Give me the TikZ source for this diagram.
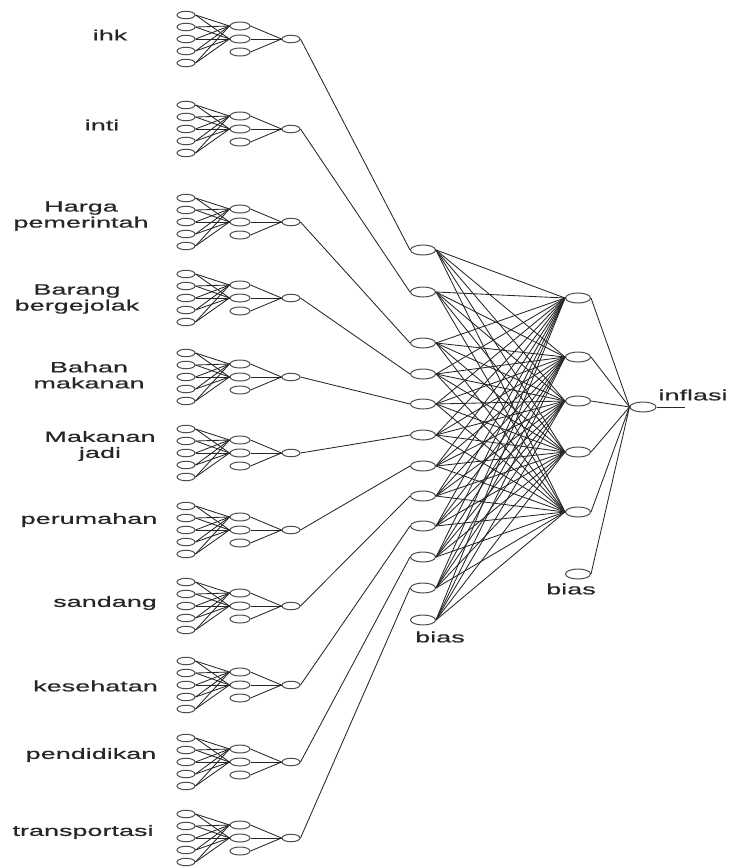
\documentclass[tikz,border=0pt]{standalone}
\usepackage{fontspec}
\newfontfamily\lbl[FakeStretch=1.8,FakeBold=0.6]{Liberation Sans}
\usetikzlibrary{shapes.geometric}
\definecolor{wcol}{gray}{0.15}
\definecolor{ncol}{gray}{0.3}
\definecolor{tcol}{gray}{0.15}
\begin{document}
\begin{tikzpicture}[x=1pt,y=-1pt,
  neu/.style={draw=ncol, ellipse, minimum width=18pt, minimum height=7.5pt, inner sep=0pt, line width=1pt},
  hid/.style={neu, minimum width=20pt, minimum height=8pt},
  big/.style={neu, minimum width=25pt, minimum height=10pt},
  wire/.style={draw=wcol, line width=0.85pt},
  lab/.style={font=\lbl\fontsize{15}{16}\selectfont, text=tcol, align=center, inner sep=0pt}]
\useasboundingbox (0,0) rectangle (732,867);
% sub-networks
\foreach \k/\yo in {1/39,2/129,3/222,4/298,5/377,6/453,7/530,8/606,9/685,10/762,11/838}{
  \node[neu] (o\k) at (291,\yo) {};
  \foreach \i/\dy in {1/-24,2/-12,3/0,4/12,5/24}
    \node[neu] (i\k-\i) at (186,\yo+\dy) {};
  \foreach \j/\dy in {1/-13,2/0,3/13}
    \node[hid] (h\k-\j) at (240,\yo+\dy) {};
  \foreach \i in {1,...,5}
    \foreach \j in {1,2}
      \draw[wire] (i\k-\i.east) -- (h\k-\j.west);
  \foreach \j in {1,2,3}
    \draw[wire] (h\k-\j.east) -- (o\k.west);
}
% middle layer
\foreach \m/\y in {1/250,2/292,3/343,4/374,5/404,6/435,7/466,8/496,9/526,10/557,11/588,12/620}
  \node[big] (m\m) at (423,\y) {};
% second hidden layer
\foreach \r/\y in {1/298,2/357,3/401,4/452,5/512,6/574}
  \node[big] (r\r) at (578,\y) {};
\node[big, minimum width=26pt] (out) at (643,407) {};
\coordinate (end) at (685,407);
% connections
\foreach \k in {1,...,11}
  \draw[wire] (o\k.east) -- (m\k.west);
\foreach \m in {1,...,12}
  \foreach \r in {1,...,5}
    \draw[wire] (m\m.east) -- (r\r.west);
\foreach \r in {1,...,6}
  \draw[wire] (r\r.east) -- (out.west);
\draw[wire] (out.east) -- (end);
% labels
\node[lab] (l1) at (110,35) {ihk};
\node[lab] (l2) at (102,125) {inti};
\node[lab] (l3) at (81,216) {Harga\\pemerintah};
\node[lab] (l4) at (77,299) {Barang\\bergejolak};
\node[lab] (l5) at (89,375) {Bahan\\makanan};
\node[lab] (l6) at (100,446) {Makanan\\jadi};
\node[lab] (l7) at (89,520) {perumahan};
\node[lab] (l8) at (105,603) {sandang};
\node[lab, anchor=east] (l9) at (158,686) {kesehatan};
\node[lab] (l10) at (91,755) {pendidikan};
\node[lab] (l11) at (83,832) {transportasi};
\node[lab] (lo) at (693,395) {inflasi};
\node[lab] (b1) at (440,637) {bias};
\node[lab] (b2) at (571,589) {bias};
\end{tikzpicture}
\end{document}
